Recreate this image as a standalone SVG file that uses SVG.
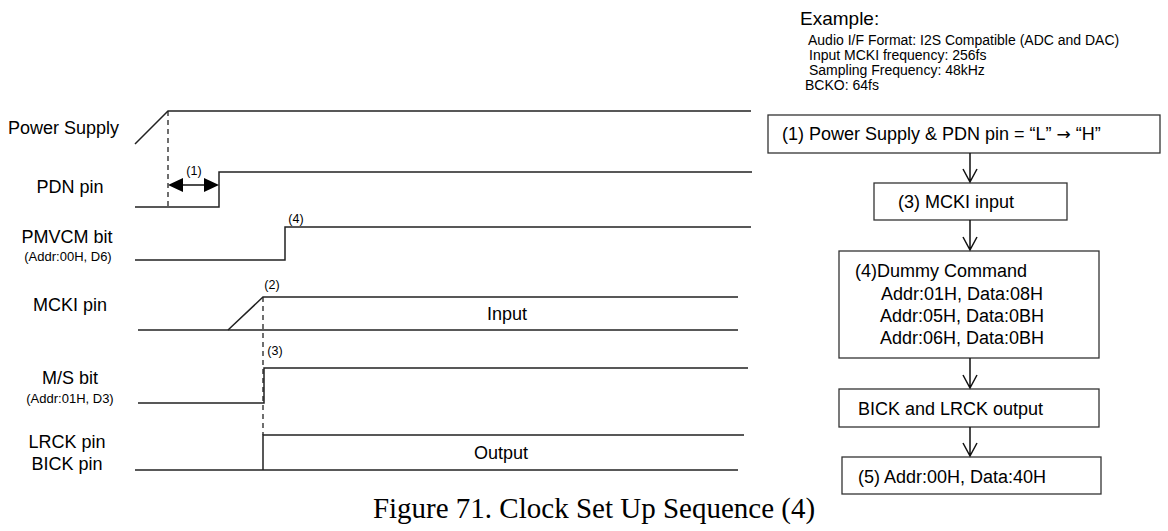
<svg xmlns="http://www.w3.org/2000/svg" width="1168" height="531" viewBox="0 0 1168 531">
<style>
.lbl{font-family:"Liberation Sans",Arial,sans-serif;font-size:18px;fill:#000}
.sub{font-family:"Liberation Sans",Arial,sans-serif;font-size:13px;fill:#000}
.mk{font-family:"Liberation Sans",Arial,sans-serif;font-size:12.5px;fill:#000}
.ex{font-family:"Liberation Sans",Arial,sans-serif;font-size:14px;fill:#000}
.sig{fill:none;stroke:#222;stroke-width:1.5}
.dash{fill:none;stroke:#222;stroke-width:1.3;stroke-dasharray:5,4}
.box{fill:#fff;stroke:#333;stroke-width:1.3}
.con{fill:none;stroke:#111;stroke-width:1.5}
.cap{font-family:"Liberation Serif","Times New Roman",serif;font-size:29px;fill:#000}
</style>
<rect width="1168" height="531" fill="#fff"/>

<g id="sig-power">
<text class="lbl" x="8" y="134">Power Supply</text>
<polyline class="sig" points="135,144 168,111 751,111"/>
</g>
<g id="sig-pdn">
<text class="lbl" x="70" y="193" text-anchor="middle">PDN pin</text>
<polyline class="sig" points="135,207 219,207 219,172 752,172"/>
<line class="con" x1="178" y1="185" x2="209" y2="185"/>
<polygon points="168,185 183,178 183,192" fill="#000"/>
<polygon points="219,185 204,178 204,192" fill="#000"/>
<text class="mk" x="194" y="175" text-anchor="middle">(1)</text>
</g>
<g id="sig-pmvcm">
<text class="lbl" x="67" y="243" text-anchor="middle">PMVCM bit</text>
<text class="sub" x="68" y="261" text-anchor="middle">(Addr:00H, D6)</text>
<polyline class="sig" points="135,260 285,260 285,227 751,227"/>
<text class="mk" x="296" y="223" text-anchor="middle">(4)</text>
</g>
<g id="sig-mcki">
<text class="lbl" x="70" y="311" text-anchor="middle">MCKI pin</text>
<line class="sig" x1="138" y1="330" x2="738" y2="330"/>
<polyline class="sig" points="228,330 263,297 738,297"/>
<text class="mk" x="272" y="289" text-anchor="middle">(2)</text>
<text class="lbl" x="507" y="320" text-anchor="middle">Input</text>
</g>
<g id="sig-ms">
<text class="lbl" x="70" y="384" text-anchor="middle">M/S bit</text>
<text class="sub" x="70" y="403" text-anchor="middle">(Addr:01H, D3)</text>
<polyline class="sig" points="138,403 264,403 264,368 748,368"/>
<text class="mk" x="275" y="355" text-anchor="middle">(3)</text>
</g>
<g id="sig-lrck">
<text class="lbl" x="67" y="448" text-anchor="middle">LRCK pin</text>
<text class="lbl" x="67" y="470" text-anchor="middle">BICK pin</text>
<line class="sig" x1="135" y1="470" x2="738" y2="470"/>
<polyline class="sig" points="263,470 263,435 744,435"/>
<text class="lbl" x="501" y="459" text-anchor="middle">Output</text>
</g>
<g id="guides">
<line class="dash" x1="168" y1="111" x2="168" y2="207"/>
<line class="dash" x1="263" y1="297" x2="263" y2="435"/>
</g>

<g id="example">
<text class="lbl" x="800" y="25" style="font-size:19px">Example:</text>
<text class="ex" x="808" y="45">Audio I/F Format: I2S Compatible (ADC and DAC)</text>
<text class="ex" x="809" y="60">Input MCKI frequency: 256fs</text>
<text class="ex" x="809" y="75">Sampling Frequency: 48kHz</text>
<text class="ex" x="805" y="90">BCKO: 64fs</text>
</g>

<g id="step1">
<rect class="box" x="768" y="115" width="392" height="38"/>
<text class="lbl" x="782" y="140">(1) Power Supply &amp; PDN pin = “L” <tspan style="font-family:'DejaVu Sans',sans-serif;font-size:17px">→</tspan> “H”</text>
</g>
<g id="step3">
<rect class="box" x="874" y="183" width="193" height="37"/>
<text class="lbl" x="898" y="208">(3) MCKI input</text>
</g>
<g id="step4">
<rect class="box" x="839" y="251" width="260" height="107"/>
<text class="lbl" x="855" y="277">(4)Dummy Command</text>
<text class="lbl" x="881" y="300">Addr:01H, Data:08H</text>
<text class="lbl" x="880" y="322">Addr:05H, Data:0BH</text>
<text class="lbl" x="880" y="344">Addr:06H, Data:0BH</text>
</g>
<g id="stepBick">
<rect class="box" x="839" y="389" width="260" height="38"/>
<text class="lbl" x="858" y="415">BICK and LRCK output</text>
</g>
<g id="step5">
<rect class="box" x="842" y="457" width="259" height="37"/>
<text class="lbl" x="858" y="483">(5) Addr:00H, Data:40H</text>
</g>

<g id="connectors">
<path class="con" d="M970,153 V182 M963,169 L970,182 L977,169"/>
<path class="con" d="M970,220 V250 M963,237 L970,250 L977,237"/>
<path class="con" d="M970,358 V388 M963,375 L970,388 L977,375"/>
<path class="con" d="M970,427 V456 M963,443 L970,456 L977,443"/>
</g>

<text class="cap" x="594" y="518" text-anchor="middle">Figure 71. Clock Set Up Sequence (4)</text>
</svg>
